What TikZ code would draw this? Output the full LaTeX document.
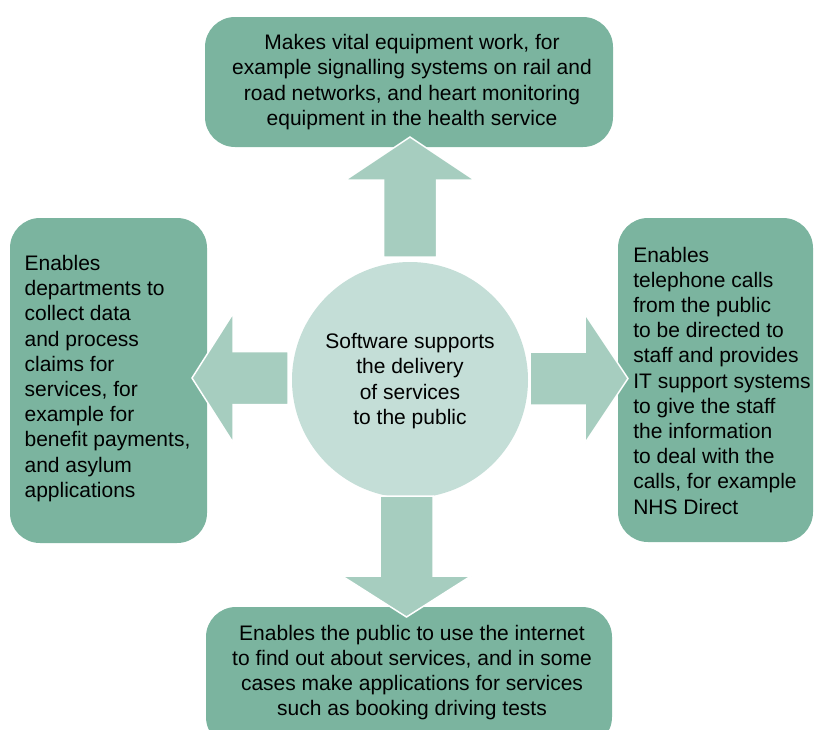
\documentclass[tikz,border=0pt]{standalone}
\usepackage{fontspec}
\setmainfont{Liberation Sans}

\definecolor{boxgreen}{HTML}{7BB49F}
\definecolor{arrowgreen}{HTML}{A6CDBF}
\definecolor{hubgreen}{HTML}{C4DED7}

\tikzset{
  card/.style={rectangle, rounded corners=30pt, fill=boxgreen, inner sep=0pt},
  blurb/.style={font=\fontsize{21}{25.2}\selectfont, inner sep=0pt},
  fatarrow/.style={fill=arrowgreen, draw=white, line width=1.5pt, line join=miter},
}

\begin{document}
\begin{tikzpicture}[x=1pt, y=-1pt]
\useasboundingbox (0,0) rectangle (814,729);
\clip (0,0) rectangle (814,729);

% boxes round the hub
\node[card, minimum width=408pt, minimum height=130pt] (top) at (409,82) {};
\node[card, minimum width=197pt, minimum height=325pt] (left) at (108.5,380.5) {};
\node[card, minimum width=195pt, minimum height=324pt] (right) at (715.5,380) {};
\node[card, minimum width=406pt, minimum height=140pt] (bottom) at (409,677) {};
\node[circle, fill=hubgreen, minimum size=236pt, inner sep=0pt] (hub) at (410,380) {};

% block arrows out of the hub
\draw[fatarrow, shift={(hub.center)}, rotate=90]
  (123,-26.5) -- (200,-26.5) -- (200,-64.5) -- (243,0) -- (200,64.5) -- (200,26.5) -- (123,26.5) -- cycle;
\draw[fatarrow, shift={([xshift=-3.5pt]hub.center)}, rotate=-90]
  (116,-26.5) -- (196,-26.5) -- (196,-64.5) -- (237,0) -- (196,64.5) -- (196,26.5) -- (116,26.5) -- cycle;
\draw[fatarrow, shift={([yshift=2pt]hub.center)}, rotate=180]
  (122,-26.5) -- (177,-26.5) -- (177,-64.5) -- (218,0) -- (177,64.5) -- (177,26.5) -- (122,26.5) -- cycle;
\draw[fatarrow, shift={([yshift=1.5pt]hub.center)}]
  (120,-26.5) -- (175,-26.5) -- (175,-64.5) -- (218,0) -- (175,64.5) -- (175,26.5) -- (120,26.5) -- cycle;

% texts
\node[blurb, align=center] (hubtext) at ([yshift=-1pt]hub.center) {Software supports\\the delivery\\of services\\to the public};
\node[blurb, align=center] (toptext) at ([xshift=3pt]top.center) {Makes vital equipment work, for\\example signalling systems on rail and\\road networks, and heart monitoring\\equipment in the health service};
\node[blurb, align=left] (lefttext) at (107.5,378.5) {Enables\\departments to\\collect data\\and process\\claims for\\services, for\\example for\\benefit payments,\\and asylum\\applications};
\node[blurb, align=left] (righttext) at (722,380.5) {Enables\\telephone calls\\from the public\\to be directed to\\staff and provides\\IT support systems\\to give the staff\\the information\\to deal with the\\calls, for example\\NHS Direct};
\node[blurb, align=center] (bottomtext) at (412,672.5) {Enables the public to use the internet\\to find out about services, and in some\\cases make applications for services\\such as booking driving tests};

\end{tikzpicture}
\end{document}
